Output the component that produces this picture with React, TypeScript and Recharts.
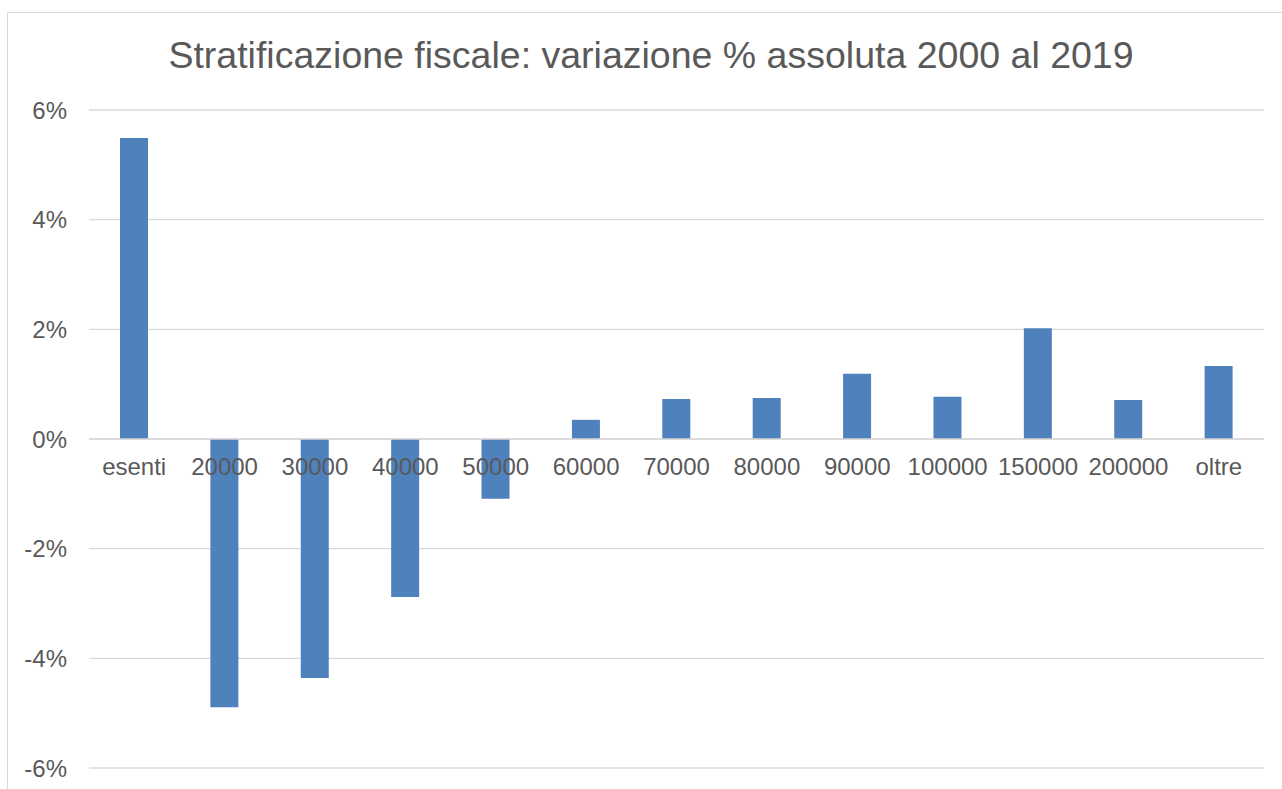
import React from "react";
import { BarChart, Bar, XAxis, YAxis, CartesianGrid, ReferenceLine, ReferenceDot } from "recharts";

const categories = ["esenti", "20000", "30000", "40000", "50000", "60000", "70000", "80000", "90000", "100000", "150000", "200000", "oltre"];
const variation = [5.49, -4.89, -4.36, -2.88, -1.09, 0.35, 0.73, 0.75, 1.19, 0.77, 2.02, 0.71, 1.33];
const yTicks = [-6, -4, -2, 0, 2, 4, 6];
const title = "Stratificazione fiscale: variazione % assoluta 2000 al 2019";

const data = categories.map((name, i) => ({ name, value: variation[i] }));

const FONT = "'Liberation Sans', Arial, sans-serif";
const TEXT = "#595959";
const GRID = "#d9d9d9";

export default function App() {
  return (
    <div style={{ position: "fixed", left: 0, top: 0, width: 1282, height: 789, overflow: "hidden", background: "#fff" }}>
      <div style={{ position: "absolute", left: 7, top: 12, width: 1400, height: 900, borderLeft: `1px solid ${GRID}`, borderTop: `1px solid ${GRID}` }} />
      <div style={{ position: "absolute", left: 0, top: 37, width: 1302, textAlign: "center", fontFamily: FONT, fontSize: 37.5, lineHeight: "37px", color: TEXT, whiteSpace: "nowrap" }}>
        {title}
      </div>
      <div style={{ position: "absolute", left: 0, top: 0 }}>
        <BarChart width={1282} height={789} data={data} margin={{ top: 110, right: 18, bottom: 21, left: 0 }}>
          <CartesianGrid vertical={false} stroke={GRID} strokeWidth={1.3} />
          <XAxis dataKey="name" hide />
          <YAxis
            domain={[-6, 6]}
            ticks={yTicks}
            width={89}
            axisLine={false}
            tickLine={false}
            tickSize={0}
            tickMargin={22}
            tickFormatter={(v: number) => `${v}%`}
            tick={{ fill: TEXT, fontSize: 24, fontFamily: FONT }}
          />
          <Bar dataKey="value" fill="#4f81bd" barSize={28} isAnimationActive={false} />
          <ReferenceLine y={0} stroke={GRID} strokeWidth={1.5} />
          {categories.map((c) => (
            <ReferenceDot
              key={c}
              x={c}
              y={0}
              r={0}
              fill="none"
              stroke="none"
              ifOverflow="visible"
              label={{ value: c, position: "bottom", offset: 19, fill: TEXT, fontSize: 24, fontFamily: FONT }}
            />
          ))}
        </BarChart>
      </div>
    </div>
  );
}
